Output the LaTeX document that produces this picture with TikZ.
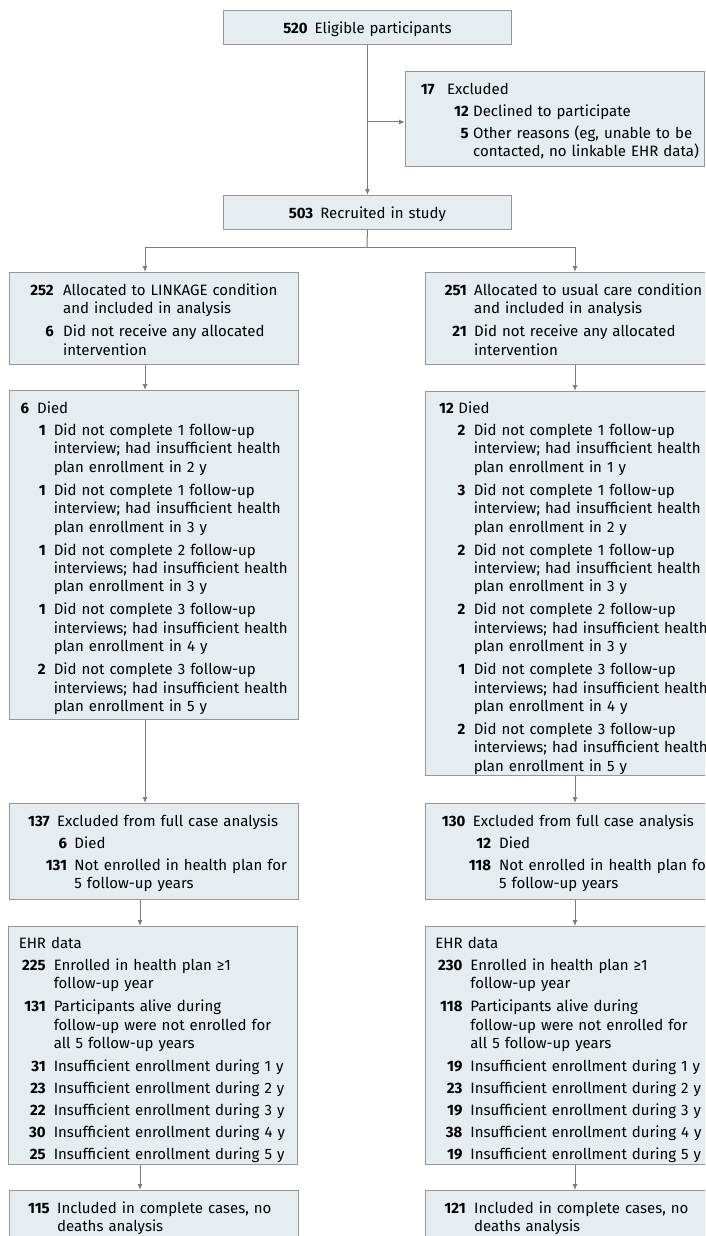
\documentclass[tikz,border=0pt]{standalone}
\usepackage{fontspec}
\setmainfont{Fira Sans}
\usetikzlibrary{arrows.meta}
\definecolor{boxfill}{RGB}{230,237,241}
\definecolor{boxline}{RGB}{150,150,150}
\definecolor{arrline}{RGB}{125,125,125}
\def\flowitem#1#2#3#4{\hspace*{#2pt}\llap{\textbf{#3}\hspace{\dimexpr#2pt-#1pt\relax}}\begin{tabular}[t]{@{}l@{}}#4\end{tabular}\par\vspace{3.6pt}}
\tikzset{
	flowbox/.style={draw=boxline, line width=0.9pt, fill=boxfill, anchor=north west, inner sep=0pt, text width=289pt, align=left, text height=23pt, font=\fontsize{15pt}{18.4pt}\selectfont},
	flowarr/.style={draw=arrline, line width=1pt, -{Latex[length=6pt,width=5pt]}},
	flowline/.style={draw=arrline, line width=1pt}
}

\begin{document}
\begin{tikzpicture}[x=1pt, y=-1pt]
				\useasboundingbox (0,0) rectangle (705,1236);
				\clip (0,0) rectangle (705,1236);
				
				\node[flowbox, align=center, text width=288pt, text height=23.3pt, text depth=10.7pt] (elig) at (223,10) {\textbf{520}\hspace{7pt}Eligible participants};
				\node[flowbox, text width=299pt, text depth=72pt] (excl) at (405,71) {
					\flowitem{29.3}{41.7}{17}{Excluded}
					\flowitem{63.3}{67.7}{12}{Declined to participate}
					\flowitem{63.3}{67.7}{5}{Other reasons (eg, unable to be\\contacted, no linkable EHR data)}};
				\node[flowbox, align=center, text width=288pt, text height=23.3pt, text depth=10.7pt] (recr) at (223,195) {\textbf{503}\hspace{7pt}Recruited in study};
				
				\node[flowbox, text depth=69pt] (link) at (9,272) {
					\flowitem{44.3}{53.7}{252}{Allocated to LINKAGE condition\\and included in analysis}
					\flowitem{44.3}{53.7}{6}{Did not receive any allocated\\intervention}};
				\node[flowbox, text depth=69pt] (usual) at (425,272) {
					\flowitem{41.3}{48.7}{251}{Allocated to usual care condition\\and included in analysis}
					\flowitem{41.3}{48.7}{21}{Did not receive any allocated\\intervention}};
				
				\node[flowbox, text depth=305.7pt] (ldied) at (9,390) {
					\flowitem{19.7}{27.7}{6}{Died}
					\flowitem{36.3}{44.3}{1}{Did not complete 1 follow-up\\interview; had insufficient health\\plan enrollment in 2 y}
					\flowitem{36.3}{44.3}{1}{Did not complete 1 follow-up\\interview; had insufficient health\\plan enrollment in 3 y}
					\flowitem{36.3}{44.3}{1}{Did not complete 2 follow-up\\interviews; had insufficient health\\plan enrollment in 3 y}
					\flowitem{36.3}{44.3}{1}{Did not complete 3 follow-up\\interviews; had insufficient health\\plan enrollment in 4 y}
					\flowitem{36.3}{44.3}{2}{Did not complete 3 follow-up\\interviews; had insufficient health\\plan enrollment in 5 y}};
				\node[flowbox, text height=22pt, text depth=362pt] (rdied) at (425,391) {
					\flowitem{28.3}{33}{12}{Died}
					\flowitem{40}{48.3}{2}{Did not complete 1 follow-up\\interview; had insufficient health\\plan enrollment in 1 y}
					\flowitem{40}{48.3}{3}{Did not complete 1 follow-up\\interview; had insufficient health\\plan enrollment in 2 y}
					\flowitem{40}{48.3}{2}{Did not complete 1 follow-up\\interview; had insufficient health\\plan enrollment in 3 y}
					\flowitem{40}{48.3}{2}{Did not complete 2 follow-up\\interviews; had insufficient health\\plan enrollment in 3 y}
					\flowitem{40}{48.3}{1}{Did not complete 3 follow-up\\interviews; had insufficient health\\plan enrollment in 4 y}
					\flowitem{40}{48.3}{2}{Did not complete 3 follow-up\\interviews; had insufficient health\\plan enrollment in 5 y}};
				
				\node[flowbox, text height=22.7pt, text depth=73.3pt] (lexcl) at (9,803) {
					\flowitem{40.3}{47.7}{137}{Excluded from full case analysis}
					\flowitem{57.7}{65}{6}{Died}
					\flowitem{57.7}{65}{131}{Not enrolled in health plan for\\5 follow-up years}};
				\node[flowbox, text height=22.7pt, text depth=73.3pt] (rexcl) at (425,803) {
					\flowitem{40}{47.4}{130}{Excluded from full case analysis}
					\flowitem{65.7}{73.7}{12}{Died}
					\flowitem{65.7}{73.7}{118}{Not enrolled in health plan for\\5 follow-up years}};
				
				\node[flowbox, text height=22pt, text depth=216pt] (lehr) at (8,926) {
					\hspace*{10.3pt}EHR data\par\vspace{3.6pt}
					\flowitem{37.3}{45.3}{225}{Enrolled in health plan ≥1\\follow-up year}
					\flowitem{37.3}{45.3}{131}{Participants alive during\\follow-up were not enrolled for\\all 5 follow-up years}
					\flowitem{37.3}{45.3}{31}{Insufficient enrollment during 1 y}
					\flowitem{37.3}{45.3}{23}{Insufficient enrollment during 2 y}
					\flowitem{37.3}{45.3}{22}{Insufficient enrollment during 3 y}
					\flowitem{37.3}{45.3}{30}{Insufficient enrollment during 4 y}
					\flowitem{37.3}{45.3}{25}{Insufficient enrollment during 5 y}};
				\node[flowbox, text height=22pt, text depth=216pt] (rehr) at (425,926) {
					\hspace*{10pt}EHR data\par\vspace{3.6pt}
					\flowitem{37}{45}{230}{Enrolled in health plan ≥1\\follow-up year}
					\flowitem{37}{45}{118}{Participants alive during\\follow-up were not enrolled for\\all 5 follow-up years}
					\flowitem{37}{45}{19}{Insufficient enrollment during 1 y}
					\flowitem{37}{45}{23}{Insufficient enrollment during 2 y}
					\flowitem{37}{45}{19}{Insufficient enrollment during 3 y}
					\flowitem{37}{45}{38}{Insufficient enrollment during 4 y}
					\flowitem{37}{45}{19}{Insufficient enrollment during 5 y}};
				
				\node[flowbox, text height=22.7pt, text depth=60pt] (lcase) at (9,1190) {
					\flowitem{40.3}{47.7}{115}{Included in complete cases, no\\deaths analysis}};
				\node[flowbox, text height=22.7pt, text depth=60pt] (rcase) at (425,1190) {
					\flowitem{40.3}{48.7}{121}{Included in complete cases, no\\deaths analysis}};
				
				\coordinate (exjoin) at (367,122);
				\coordinate (fork) at (367,247);
				\coordinate (laneL) at (145,0);
				\coordinate (laneLL) at (140,0);
				\coordinate (laneR) at (575,0);
				
				\draw[flowarr] (elig.south) -- (recr.north);
				\draw[flowarr] (exjoin) -- (exjoin -| excl.west);
				\draw[flowline] (recr.south) -- (fork);
				\draw[flowarr] (fork) -| (laneL |- link.north);
				\draw[flowarr] (fork) -| (laneR |- usual.north);
				\draw[flowarr] (laneL |- link.south) -- (laneL |- ldied.north);
				\draw[flowarr] (laneR |- usual.south) -- (laneR |- rdied.north);
				\draw[flowarr] (laneL |- ldied.south) -- (laneL |- lexcl.north);
				\draw[flowarr] (laneR |- rdied.south) -- (laneR |- rexcl.north);
				\draw[flowarr] (laneLL |- lexcl.south) -- (laneLL |- lehr.north);
				\draw[flowarr] (laneR |- rexcl.south) -- (laneR |- rehr.north);
				\draw[flowarr] (laneLL |- lehr.south) -- (laneLL |- lcase.north);
				\draw[flowarr] (laneR |- rehr.south) -- (laneR |- rcase.north);
			\end{tikzpicture}
\end{document}
